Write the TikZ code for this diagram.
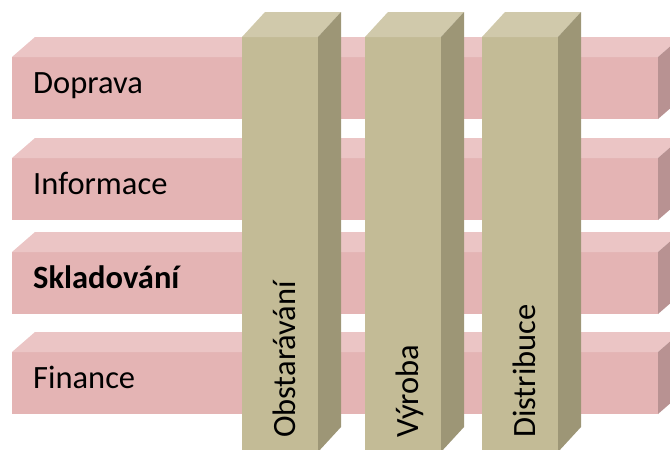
\documentclass[tikz,border=0pt]{standalone}
\usepackage{fontspec}
\setmainfont{Carlito}

\definecolor{barfront}{RGB}{228,180,180}
\definecolor{bartop}{RGB}{235,197,197}
\definecolor{barside}{RGB}{184,146,146}
\definecolor{colfront}{RGB}{195,187,150}
\definecolor{coltop}{RGB}{208,201,171}
\definecolor{colside}{RGB}{157,150,118}

\begin{document}
\begin{tikzpicture}[x=1pt, y=-1pt,
		every node/.style={font=\fontsize{32.5}{38}\selectfont, inner sep=0pt, text=black},
		barlabel/.style={anchor=base west},
		collabel/.style={rotate=90, anchor=base west}]
		\useasboundingbox (0,0) rectangle (670,450);
		\begin{scope}
			\clip (0,0) rectangle (670,450);
			% horizontal bars
			\foreach \y/\lbl/\txt in {57/dop/Doprava, 158/inf/Informace, 252/skl/{\bfseries Skladování}, 352/fin/Finance} {
				\fill[barfront] (12,\y) rectangle (658,\y+62);
				\fill[bartop] (12,\y) -- (35,\y-20) -- (681,\y-20) -- (658,\y) -- cycle;
				\fill[barside] (658,\y) -- (681,\y-20) -- (681,\y+42) -- (658,\y+62) -- cycle;
				\node[barlabel] (\lbl) at (33,\y+36) {\txt};
			}
			% vertical columns
			\foreach \x/\lbl/\txt in {242/obs/Obstarávání, 365/vyr/Výroba, 482/dis/Distribuce} {
				\fill[colfront] (\x,37) rectangle (\x+76,452);
				\fill[coltop] (\x,37) -- (\x+23,12) -- (\x+99,12) -- (\x+76,37) -- cycle;
				\fill[colside] (\x+76,37) -- (\x+99,12) -- (\x+99,427) -- (\x+76,452) -- cycle;
				\node[collabel] (\lbl) at (\x+53,438) {\txt};
			}
		\end{scope}
	\end{tikzpicture}
\end{document}
